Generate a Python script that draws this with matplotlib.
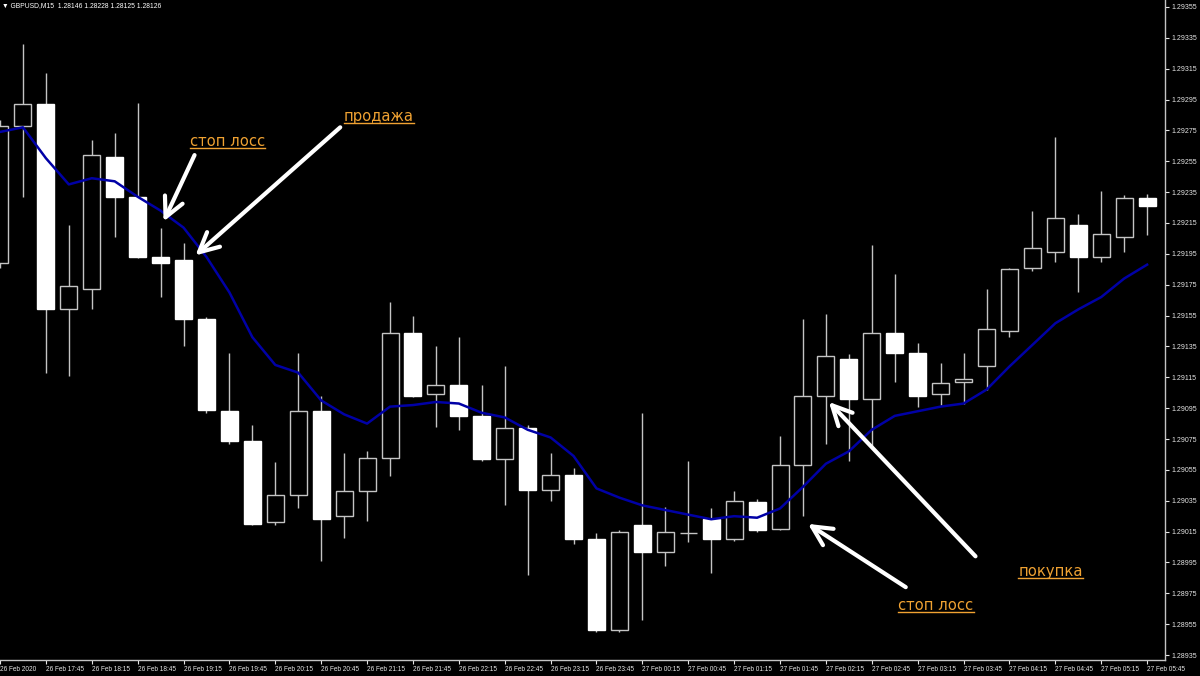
import numpy as np
import pandas as pd
import matplotlib
matplotlib.use("Agg")
from matplotlib import pyplot as plt
from matplotlib.patches import Rectangle
from matplotlib.lines import Line2D

# GBPUSD M15 bars, 26 Feb 17:15 .. 27 Feb 05:45
times = pd.date_range("2020-02-26 17:15", "2020-02-27 05:45", freq="15min")

opens = [1.29189, 1.29278, 1.29292, 1.29159, 1.29172, 1.29258, 1.29232, 1.29193, 1.29191, 1.29153,
         1.29093, 1.29074, 1.29021, 1.29039, 1.29093, 1.29025, 1.29041, 1.29063, 1.29144, 1.29104,
         1.29110, 1.29090, 1.29062, 1.29082, 1.29042, 1.29052, 1.29010, 1.28951, 1.29019, 1.29002,
         1.29014, 1.29023, 1.29010, 1.29034, 1.29017, 1.29058, 1.29103, 1.29127, 1.29101, 1.29144,
         1.29131, 1.29104, 1.29112, 1.29122, 1.29145, 1.29186, 1.29196, 1.29214, 1.29193, 1.29206,
         1.29231]
highs = [1.29282, 1.29331, 1.29312, 1.29214, 1.29269, 1.29273, 1.29293, 1.29212, 1.29202, 1.29154,
         1.29131, 1.29084, 1.29060, 1.29131, 1.29103, 1.29066, 1.29067, 1.29164, 1.29155, 1.29135,
         1.29141, 1.29110, 1.29122, 1.29084, 1.29066, 1.29056, 1.29014, 1.29016, 1.29092, 1.29031,
         1.29061, 1.29030, 1.29041, 1.29036, 1.29077, 1.29153, 1.29156, 1.29130, 1.29201, 1.29182,
         1.29137, 1.29124, 1.29131, 1.29172, 1.29186, 1.29223, 1.29271, 1.29221, 1.29236, 1.29233,
         1.29234]
lows = [1.29186, 1.29232, 1.29118, 1.29116, 1.29159, 1.29206, 1.29192, 1.29167, 1.29135, 1.29092,
        1.29072, 1.29019, 1.29019, 1.29030, 1.28996, 1.29011, 1.29022, 1.29051, 1.29102, 1.29083,
        1.29081, 1.29061, 1.29032, 1.28987, 1.29035, 1.29007, 1.28950, 1.28950, 1.28958, 1.28993,
        1.29008, 1.28988, 1.29009, 1.29015, 1.29016, 1.29025, 1.29072, 1.29061, 1.29069, 1.29112,
        1.29096, 1.29097, 1.29098, 1.29107, 1.29141, 1.29184, 1.29190, 1.29170, 1.29190, 1.29196,
        1.29207]
closes = [1.29278, 1.29292, 1.29159, 1.29174, 1.29259, 1.29232, 1.29193, 1.29189, 1.29153, 1.29094,
          1.29074, 1.29020, 1.29039, 1.29093, 1.29023, 1.29041, 1.29063, 1.29144, 1.29103, 1.29110,
          1.29090, 1.29062, 1.29082, 1.29042, 1.29052, 1.29010, 1.28951, 1.29015, 1.29002, 1.29015,
          1.29014, 1.29010, 1.29035, 1.29016, 1.29058, 1.29103, 1.29129, 1.29101, 1.29144, 1.29131,
          1.29103, 1.29111, 1.29114, 1.29146, 1.29185, 1.29199, 1.29218, 1.29193, 1.29208, 1.29231,
          1.29226]
# moving average (blue line)
ma = [1.29274, 1.29277, 1.29257, 1.29240, 1.29244, 1.29242, 1.29232, 1.29223, 1.29212, 1.29193,
      1.29170, 1.29141, 1.29123, 1.29118, 1.29100, 1.29091, 1.29085, 1.29096, 1.29097, 1.29099,
      1.29098, 1.29092, 1.29089, 1.29081, 1.29076, 1.29064, 1.29043, 1.29037, 1.29032, 1.29029,
      1.29026, 1.29023, 1.29025, 1.29024, 1.29030, 1.29044, 1.29059, 1.29067, 1.29081, 1.29090,
      1.29093, 1.29096, 1.29098, 1.29107, 1.29122, 1.29136, 1.29150, 1.29159, 1.29167, 1.29179,
      1.29188]

price_ticks = np.arange(1.28935, 1.29356, 0.0002)
header = "\u25bc GBPUSD,M15  1.28146 1.28228 1.28125 1.28126"

# annotations: (text, text position), arrows as (tail, head)
orange = "#f0a232"
notes = [
    ("стоп лосс", (9.9, 1.29268)),
    ("продажа", (16.5, 1.29284)),
    ("покупка", (45.8, 1.28989)),
    ("стоп лосс", (40.8, 1.28967)),
]
arrows = [
    ((8.48, 1.29259), (7.13, 1.29216)),
    ((14.83, 1.29277), (8.52, 1.29194)),
    ((42.52, 1.28999), (36.13, 1.29099)),
    ((39.48, 1.28979), (35.22, 1.29020)),
]

fig = plt.figure(figsize=(12, 6.76), dpi=100, facecolor="black")
ax = fig.add_axes([0, 16 / 676, 1165 / 1200, 660 / 676])
ax.set_facecolor("black")

grey = "#c4c4c4"
w = 0.74
for i in range(len(times)):
    o, h, l, c = opens[i], highs[i], lows[i], closes[i]
    ax.vlines(i, l, h, color=grey, lw=1, zorder=1)
    if c > o:
        ax.add_patch(Rectangle((i - w / 2, o), w, c - o, facecolor="black",
                               edgecolor=grey, lw=1, zorder=2))
    elif c < o:
        ax.add_patch(Rectangle((i - w / 2, c), w, o - c, facecolor="white",
                               edgecolor="white", lw=1, zorder=2))
    else:
        ax.hlines(o, i - w / 2, i + w / 2, color=grey, lw=1, zorder=2)

ax.plot(range(len(times)), ma, color="#0000a6", lw=1.8, zorder=3)

for tail, head in arrows:
    ax.annotate("", xy=head, xytext=tail,
                arrowprops=dict(arrowstyle="->,head_length=0.7,head_width=0.35",
                                color="white", lw=3, shrinkA=0, shrinkB=0,
                                mutation_scale=20), zorder=4)

texts = []
for label, pos in notes:
    texts.append(ax.text(pos[0], pos[1], label, color=orange, fontsize=10.6,
                         ha="center", va="center", family="DejaVu Sans", zorder=5))

ax.set_xlim(0.13, 50.78)
ax.set_ylim(1.289318, 1.293595)

# axes look
for s in ["left", "top"]:
    ax.spines[s].set_visible(False)
for s in ["right", "bottom"]:
    ax.spines[s].set_color(grey)
    ax.spines[s].set_linewidth(1)

ax.yaxis.tick_right()
ax.set_yticks(price_ticks)
ax.set_yticklabels(["%.5f" % p for p in price_ticks], family="Liberation Sans")
ax.tick_params(axis="y", colors="#e6e6e6", labelsize=5.0, length=3, width=0.8, pad=1.5)

xt = list(range(0, len(times), 2))
xl = ["26 Feb 2020" if i == 0 else times[i].strftime("%d %b %H:%M") for i in xt]
ax.set_xticks(xt)
ax.set_xticklabels(xl, ha="left", family="Liberation Sans")
ax.tick_params(axis="x", colors="#e6e6e6", labelsize=4.7, length=3, width=0.8, pad=1.5)
for lab in ax.get_xticklabels():
    lab.set_x(lab.get_position()[0])

fig.text(2 / 1200, 1 - 6 / 676, header, color="white", fontsize=4.9,
         family=["Liberation Sans", "DejaVu Sans"], va="center", ha="left")

# underline the orange labels
fig.canvas.draw()
for t in texts:
    bb = t.get_window_extent()
    y = (bb.y0 + 1) / fig.bbox.height
    fig.add_artist(Line2D([bb.x0 / fig.bbox.width, bb.x1 / fig.bbox.width], [y, y],
                          transform=fig.transFigure, color=orange, lw=1))

fig.savefig("out.png", dpi=100, facecolor="black")
